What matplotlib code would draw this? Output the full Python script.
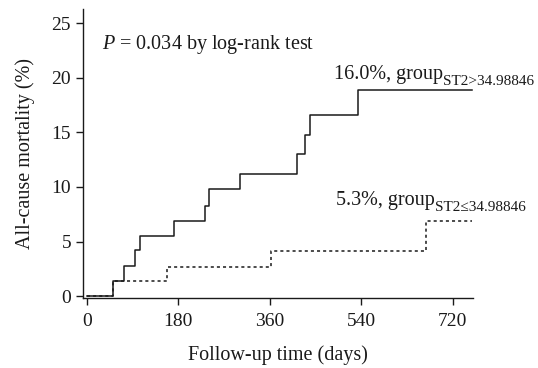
import matplotlib
matplotlib.use("Agg")
import matplotlib.pyplot as plt

# Kaplan-Meier style cumulative mortality
high_days = [0, 52, 74, 94, 105, 172, 232, 240, 302, 414, 429, 440, 534, 758]
high_mort = [0, 1.4, 2.8, 4.2, 5.5, 6.9, 8.3, 9.8, 11.2, 13.0, 14.8, 16.6, 18.9, 18.9]

low_days = [0, 52, 158, 362, 668, 758]
low_mort = [0, 1.35, 2.7, 4.1, 6.9, 6.9]

x_ticks = [0, 180, 360, 540, 720]
y_ticks = [0, 5, 10, 15, 20, 25]

plt.rcParams['font.family'] = ['Liberation Serif', 'DejaVu Serif']
plt.rcParams['mathtext.fontset'] = 'custom'
plt.rcParams['mathtext.rm'] = 'Liberation Serif'
plt.rcParams['mathtext.it'] = 'Liberation Serif:italic'

fig = plt.figure(figsize=(5.38, 3.68), dpi=100)
ax = fig.add_axes([0.154, 0.191, 0.725, 0.784])

col = '#1a1a1a'
ax.step(high_days, high_mort, where='post', color=col, lw=1.1)
ax.step(low_days, low_mort, where='post', color=col, lw=1.1, linestyle=(0, (2, 2)))

ax.set_xlim(-8, 760)
ax.set_ylim(-0.15, 26.3)
ax.set_xticks(x_ticks)
ax.set_yticks(y_ticks)
ax.spines['top'].set_visible(False)
ax.spines['right'].set_visible(False)
for s in ['left', 'bottom']:
    ax.spines[s].set_color(col)
    ax.spines[s].set_linewidth(1.0)
ax.tick_params(colors=col, labelsize=14, length=5, width=1.0)
ax.tick_params(axis='x', pad=6)

ax.set_xlabel('Follow-up time (days)', fontsize=14.5, color=col, labelpad=11)
ax.set_ylabel('All-cause mortality (%)', fontsize=14.5, color=col, labelpad=12)

ax.text(30, 23.1, r'$\it{P}$ = 0.034 by log-rank test', fontsize=14.5, color=col, va='center')

# group labels with subscripts placed after the main text
t1 = ax.text(487, 20.3, '16.0%, group', fontsize=14.5, color=col, va='center')
ax.annotate('ST2>34.98846', xy=(1, 0), xycoords=t1, xytext=(0, -3),
            textcoords='offset points', fontsize=11, color=col, va='bottom')
t2 = ax.text(491, 8.8, '5.3%, group', fontsize=14.5, color=col, va='center')
ax.annotate('ST2≤34.98846', xy=(1, 0), xycoords=t2, xytext=(0, -3),
            textcoords='offset points', fontsize=11, color=col, va='bottom')

fig.savefig('out.png', dpi=100)
